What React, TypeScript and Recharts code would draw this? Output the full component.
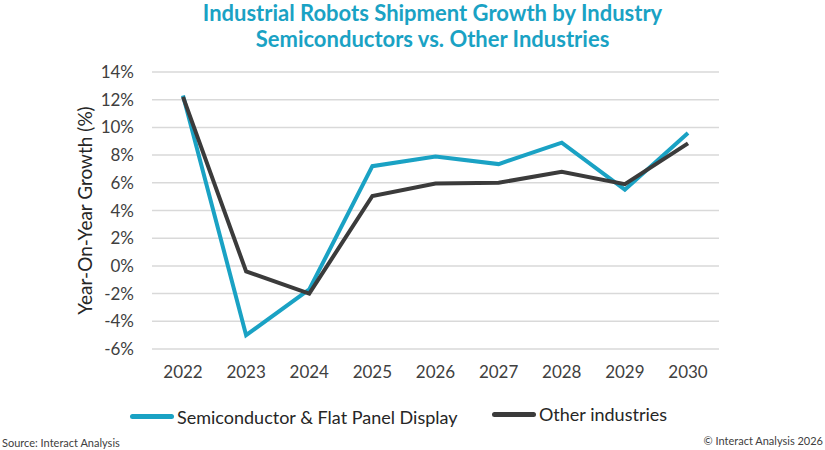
import { LineChart, Line, XAxis, YAxis, CartesianGrid } from 'recharts'

const years = ['2022', '2023', '2024', '2025', '2026', '2027', '2028', '2029', '2030']
const semiconductor = [12.3, -5.0, -1.7, 7.2, 7.9, 7.35, 8.9, 5.5, 9.6]
const otherIndustries = [12.2, -0.4, -2.0, 5.05, 5.95, 6.0, 6.8, 5.9, 8.85]
const yTicks = [-6, -4, -2, 0, 2, 4, 6, 8, 10, 12, 14]

const SEMI_COLOR = '#1aa2c4'
const OTHER_COLOR = '#3b3b3b'
const FONT = 'Lato, "Open Sans", sans-serif'

const data = years.map((year, i) => ({
  year,
  semi: semiconductor[i],
  other: otherIndustries[i],
}))

function LegendItem({ color, label }: { color: string; label: string }) {
  return (
    <span style={{ display: 'inline-flex', alignItems: 'center' }}>
      <span
        style={{
          display: 'inline-block',
          width: 44,
          height: 5,
          borderRadius: 3,
          background: color,
          marginRight: 3,
        }}
      />
      {label}
    </span>
  )
}

export default function App() {
  return (
    <div
      style={{
        position: 'fixed',
        left: 0,
        top: 0,
        width: 825,
        height: 450,
        background: '#fff',
        overflow: 'hidden',
        fontFamily: FONT,
      }}
    >
      <div
        style={{
          position: 'absolute',
          top: 0,
          left: 0,
          width: 865,
          textAlign: 'center',
          color: SEMI_COLOR,
          fontWeight: 700,
          fontSize: 22,
          lineHeight: '26px',
        }}
      >
        Industrial Robots Shipment Growth by Industry
        <br />
        Semiconductors vs. Other Industries
      </div>

      <LineChart
        width={825}
        height={450}
        data={data}
        margin={{ top: 72, right: 106, bottom: 71, left: 0 }}
      >
        <CartesianGrid vertical={false} stroke="#d9d9d9" strokeWidth={1.5} />
        <XAxis
          dataKey="year"
          axisLine={false}
          tickLine={false}
          tickSize={0}
          tickMargin={17}
          height={30}
          padding={{ left: 31, right: 31 }}
          tick={{ fontSize: 17, fill: '#404040', fontFamily: FONT }}
        />
        <YAxis
          domain={[-6, 14]}
          ticks={yTicks}
          interval={0}
          width={152}
          axisLine={false}
          tickLine={false}
          tickSize={0}
          tickMargin={18}
          tickFormatter={(v: number) => `${v}%`}
          tick={{ fontSize: 17, fill: '#404040', fontFamily: FONT }}
          label={{
            value: 'Year-On-Year Growth (%)',
            angle: -90,
            position: 'insideLeft',
            offset: 85,
            style: { textAnchor: 'middle', fontSize: 19, fill: '#262626', fontFamily: FONT },
          }}
        />
        <Line
          type="linear"
          dataKey="semi"
          stroke={SEMI_COLOR}
          strokeWidth={4}
          dot={false}
          isAnimationActive={false}
        />
        <Line
          type="linear"
          dataKey="other"
          stroke={OTHER_COLOR}
          strokeWidth={4}
          dot={false}
          isAnimationActive={false}
        />
      </LineChart>

      <div
        style={{
          position: 'absolute',
          top: 401,
          left: 130,
          fontSize: 18,
          color: '#262626',
          display: 'flex',
        }}
      >
        <span style={{ width: 362 }}>
          <LegendItem color={SEMI_COLOR} label="Semiconductor & Flat Panel Display" />
        </span>
        <LegendItem color={OTHER_COLOR} label="Other industries" />
      </div>

      <div style={{ position: 'absolute', top: 436, left: 2, fontSize: 11, color: '#404040' }}>
        Source: Interact Analysis
      </div>
      <div
        style={{
          position: 'absolute',
          top: 434,
          right: 2,
          fontSize: 11,
          color: '#404040',
          whiteSpace: 'nowrap',
        }}
      >
        © Interact Analysis 2026
      </div>
    </div>
  )
}
